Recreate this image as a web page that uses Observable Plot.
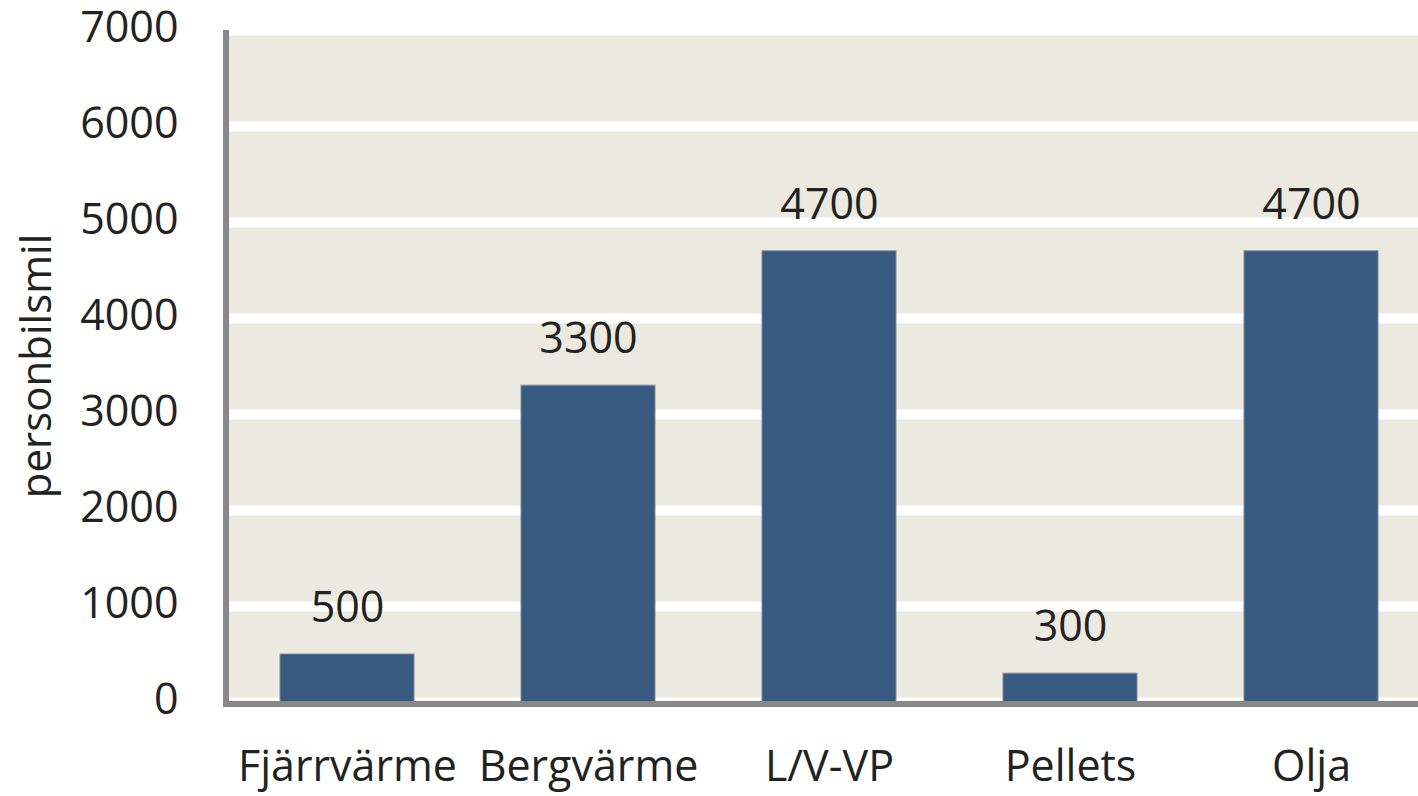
<!DOCTYPE html>
<html><head><meta charset="utf-8">
<script src="https://cdn.jsdelivr.net/npm/d3@7"></script>
<script src="https://cdn.jsdelivr.net/npm/@observablehq/plot@0.6"></script>
<style>
html,body{margin:0;padding:0;background:#fff;overflow:hidden;}
</style></head>
<body><div id="chart"></div>
<script>
const categories = ["Fjärrvärme", "Bergvärme", "L/V-VP", "Pellets", "Olja"];
const values = [500, 3300, 4700, 300, 4700];
const yTicks = [0, 1000, 2000, 3000, 4000, 5000, 6000, 7000];
const yLabel = "personbilsmil";

const data = categories.map((c, i) => ({cat: c, val: values[i]}));
const font = "'Open Sans', sans-serif";

const chart = Plot.plot({
  width: 1418,
  height: 796,
  marginLeft: 228,
  marginRight: 0,
  marginTop: 30,
  marginBottom: 94,
  style: {fontFamily: font, background: "#fff", color: "#222"},
  x: {domain: categories, range: [226.5, 1431.5], paddingInner: 0.444, paddingOuter: 0.222, label: null},
  y: {domain: [0, 7000], label: null},
  marks: [
    Plot.frame({fill: "#ECEAE0", stroke: null}),
    Plot.ruleY(yTicks, {stroke: "white", strokeWidth: 10}),
    Plot.barY(data, {x: "cat", y: "val", fill: "#385A80", stroke: "#7d8a99", strokeWidth: 1}),
    Plot.text(data, {x: "cat", y: "val", text: d => String(d.val), dy: -46, fontSize: 43, fill: "#222", fontFamily: font}),
    Plot.axisY(yTicks, {tickSize: 0, tickPadding: 50, fontSize: 43, fill: "#222", dy: -2, label: null, tickFormat: d => String(d)}),
    Plot.axisX({tickSize: 0, tickPadding: 48, fontSize: 43, fill: "#222", label: null})
  ]
});
const wrap = document.getElementById("chart");
wrap.appendChild(chart);
const svg = d3.select(chart);
const ys = chart.scale("y");
const yTop = ys.apply(7000), yBot = ys.apply(0);
// axis lines
svg.append("line")
  .attr("x1", 226).attr("x2", 226)
  .attr("y1", yTop).attr("y2", yBot + 5)
  .attr("stroke", "#888").attr("stroke-width", 6);
svg.append("line")
  .attr("x1", 223).attr("x2", 1418)
  .attr("y1", yBot + 2).attr("y2", yBot + 2)
  .attr("stroke", "#888").attr("stroke-width", 6);
// y label
svg.append("text")
  .attr("transform", "translate(40,366) rotate(-90)")
  .attr("text-anchor", "middle")
  .attr("dominant-baseline", "middle")
  .attr("font-family", font)
  .attr("font-size", 42)
  .attr("fill", "#222")
  .text(yLabel);
</script>
</body></html>
